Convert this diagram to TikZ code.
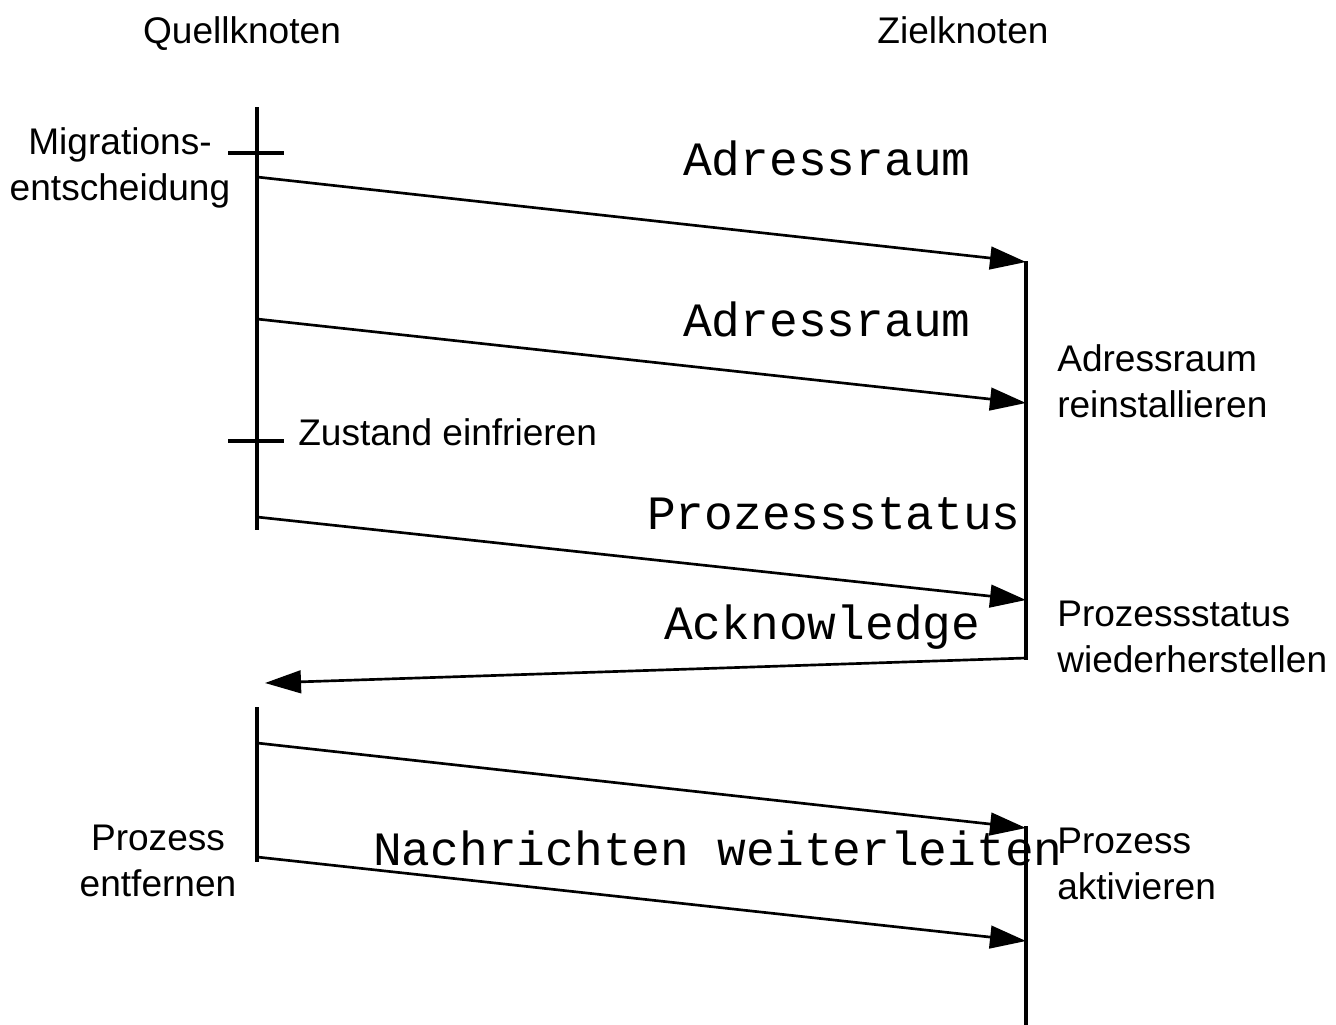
\documentclass[tikz,border=0pt]{standalone}
\usepackage{fontspec}
\setmainfont{Liberation Sans}
\setmonofont{Liberation Mono}
\usetikzlibrary{arrows.meta}

\tikzset{
  lifeline/.style={line width=2.8pt},
  tick/.style={line width=2.6pt},
  msg/.style={line width=2pt, -{Triangle[length=27pt,width=17pt]}},
  label/.style={inner sep=0pt, font=\fontsize{27.8pt}{34pt}\selectfont},
  msglabel/.style={inner sep=0pt, font=\fontsize{35.9pt}{40pt}\selectfont\ttfamily},
}

\begin{document}
\begin{tikzpicture}[x=0.75pt, y=-0.75pt]
  \useasboundingbox (0,0) rectangle (1336,1025);

  % lifeline end points
  \coordinate (Qa) at (257,107);
  \coordinate (Qb) at (257,530);
  \coordinate (Qc) at (257,707);
  \coordinate (Qd) at (257,862);
  \coordinate (Za) at (1026,261);
  \coordinate (Zb) at (1026,660);
  \coordinate (Zc) at (1026,826);
  \coordinate (Zd) at (1026,1025);

  % message end points
  \coordinate (m1s) at (257,177);  \coordinate (m1e) at (1026,262);
  \coordinate (m2s) at (257,319);  \coordinate (m2e) at (1026,403);
  \coordinate (m3s) at (257,517);  \coordinate (m3e) at (1026,600);
  \coordinate (m4s) at (1026,658); \coordinate (m4e) at (265,683);
  \coordinate (m5s) at (257,743);  \coordinate (m5e) at (1026,828);
  \coordinate (m6s) at (257,857);  \coordinate (m6e) at (1026,941);

  % ticks on the source lifeline
  \coordinate (t1a) at (228,153); \coordinate (t1b) at (284,153);
  \coordinate (t2a) at (228,441); \coordinate (t2b) at (284,441);

  % lifelines
  \draw[lifeline] (Qa) -- (Qb);
  \draw[lifeline] (Qc) -- (Qd);
  \draw[lifeline] (Za) -- (Zb);
  \draw[lifeline] (Zc) -- (Zd);
  \draw[tick] (t1a) -- (t1b);
  \draw[tick] (t2a) -- (t2b);

  % messages
  \draw[msg] (m1s) -- (m1e);
  \draw[msg] (m2s) -- (m2e);
  \draw[msg] (m3s) -- (m3e);
  \draw[msg] (m4s) -- (m4e);
  \draw[msg] (m5s) -- (m5e);
  \draw[msg] (m6s) -- (m6e);

  % headings
  \node[label, anchor=base] (quelle) at (242,43) {Quellknoten};
  \node[label, anchor=base] (ziel) at (963,43) {Zielknoten};

  % events on the source side (base = last line)
  \node[label, anchor=base, align=center] (migr) at (120,200) {Migrations-\\entscheidung};
  \node[label, anchor=base west] (frz) at (298,445) {Zustand einfrieren};
  \node[label, anchor=base, align=center] (entf) at (158,896) {Prozess\\entfernen};

  % events on the target side (base = last line)
  \node[label, anchor=base west, align=left] (rein) at (1057,417) {Adressraum\\reinstallieren};
  \node[label, anchor=base west, align=left] (wied) at (1057,672) {Prozessstatus\\wiederherstellen};
  \node[label, anchor=base west, align=left] (akt) at (1057,899) {Prozess\\aktivieren};

  % message labels
  \node[msglabel, anchor=base west] (l1) at (683,175) {Adressraum};
  \node[msglabel, anchor=base west] (l2) at (683,336) {Adressraum};
  \node[msglabel, anchor=base west] (l3) at (647,529) {Prozessstatus};
  \node[msglabel, anchor=base west] (l4) at (664,639) {Acknowledge};
  \node[msglabel, anchor=base west] (l5) at (373,865) {Nachrichten weiterleiten};
\end{tikzpicture}
\end{document}
